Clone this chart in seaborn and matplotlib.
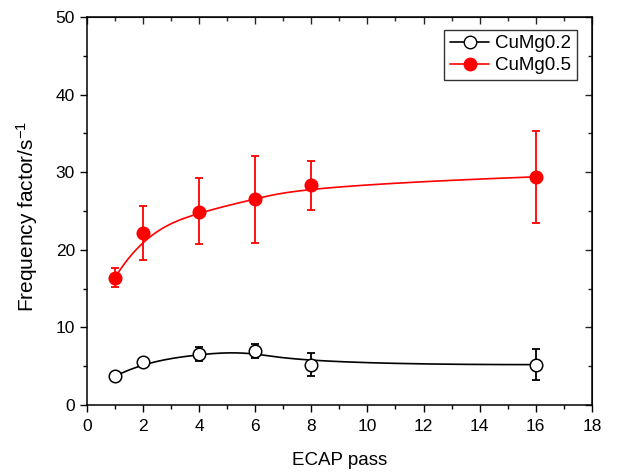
import numpy as np
import pandas as pd
import seaborn as sns
import matplotlib
matplotlib.use("Agg")
import matplotlib.pyplot as plt
from matplotlib.lines import Line2D
from matplotlib.ticker import MultipleLocator

# data
passes = [1, 2, 4, 6, 8, 16]

cumg02 = [3.7, 5.5, 6.6, 7.0, 5.2, 5.2]
cumg02_hi = [4.1, 5.9, 7.5, 7.9, 6.7, 7.2]
cumg02_lo = [3.3, 5.1, 5.7, 6.0, 3.7, 3.2]

cumg05 = [16.4, 22.2, 24.9, 26.5, 28.3, 29.4]
cumg05_hi = [17.7, 25.6, 29.3, 32.1, 31.4, 35.3]
cumg05_lo = [15.2, 18.7, 20.7, 20.9, 25.1, 23.4]

series_names = ["CuMg0.2", "CuMg0.5"]


def bspline(px, py, n=300, k=3):
    # clamped cubic B-spline with the data points as control points (Origin style)
    px = np.asarray(px, float)
    py = np.asarray(py, float)
    m = len(px)
    knots = np.concatenate([np.zeros(k), np.linspace(0, 1, m - k + 1), np.ones(k)])
    t = np.linspace(0, 1 - 1e-9, n)

    def basis(i, d):
        if d == 0:
            return ((knots[i] <= t) & (t < knots[i + 1])).astype(float)
        out = np.zeros_like(t)
        den1 = knots[i + d] - knots[i]
        den2 = knots[i + d + 1] - knots[i + 1]
        if den1 > 0:
            out += (t - knots[i]) / den1 * basis(i, d - 1)
        if den2 > 0:
            out += (knots[i + d + 1] - t) / den2 * basis(i + 1, d - 1)
        return out

    B = np.array([basis(i, k) for i in range(m)])
    return B.T @ px, B.T @ py


pts = pd.DataFrame({
    "pass": passes * 2,
    "value": cumg02 + cumg05,
    "hi": cumg02_hi + cumg05_hi,
    "lo": cumg02_lo + cumg05_lo,
    "alloy": [series_names[0]] * len(passes) + [series_names[1]] * len(passes),
})

curves = []
for name, vals in zip(series_names, [cumg02, cumg05]):
    cx, cy = bspline(passes, vals)
    curves.append(pd.DataFrame({"pass": cx, "value": cy, "alloy": name}))
curves = pd.concat(curves, ignore_index=True)

colors = {"CuMg0.2": "black", "CuMg0.5": "red"}
faces = {"CuMg0.2": "white", "CuMg0.5": "red"}

sns.set_style("ticks")
plt.rcParams["font.family"] = ["Liberation Sans", "DejaVu Sans"]
plt.rcParams["mathtext.fontset"] = "custom"
plt.rcParams["mathtext.rm"] = "Liberation Sans"
plt.rcParams["mathtext.it"] = "Liberation Sans"
plt.rcParams["text.color"] = "black"
plt.rcParams["axes.labelcolor"] = "black"

fig = plt.figure(figsize=(6.25, 4.73), dpi=100)
ax = fig.add_axes([0.139, 0.1438, 0.808, 0.8204])

sns.lineplot(data=curves, x="pass", y="value", hue="alloy", palette=colors,
             units="alloy", estimator=None, sort=False, lw=1.2, legend=False, ax=ax)

for name in series_names:
    d = pts[pts["alloy"] == name]
    ax.errorbar(d["pass"], d["value"],
                yerr=[d["value"] - d["lo"], d["hi"] - d["value"]],
                fmt="none", ecolor=colors[name], elinewidth=1.3,
                capsize=3, capthick=1.3, zorder=3)
    ax.plot(d["pass"], d["value"], ls="none", marker="o", ms=9,
            mfc=faces[name], mec=colors[name], mew=1.1, zorder=4)

ax.set_xlim(0, 18)
ax.set_ylim(0, 50)
ax.xaxis.set_major_locator(MultipleLocator(2))
ax.xaxis.set_minor_locator(MultipleLocator(1))
ax.yaxis.set_major_locator(MultipleLocator(10))
ax.yaxis.set_minor_locator(MultipleLocator(5))
ax.tick_params(which="both", direction="out", width=1.0, labelsize=12.5, colors="black")
ax.tick_params(which="major", length=5)
ax.tick_params(which="minor", length=3)
ax.tick_params(axis="x", pad=5)

for s in ax.spines.values():
    s.set_linewidth(1.1)
    s.set_color("black")
    s.set_visible(True)

# inward ticks on the top and right spines
top = ax.secondary_xaxis("top")
top.xaxis.set_major_locator(MultipleLocator(2))
top.xaxis.set_minor_locator(MultipleLocator(1))
top.tick_params(which="both", direction="in", width=1.0, labeltop=False)
top.tick_params(which="major", length=5)
top.tick_params(which="minor", length=3)
right = ax.secondary_yaxis("right")
right.yaxis.set_major_locator(MultipleLocator(10))
right.yaxis.set_minor_locator(MultipleLocator(5))
right.tick_params(which="both", direction="in", width=1.0, labelright=False)
right.tick_params(which="major", length=5)
right.tick_params(which="minor", length=3)

ax.set_xlabel("ECAP pass", fontsize=13.5, labelpad=13)
ax.set_ylabel("Frequency factor/s$^{-1}$", fontsize=15)
ax.yaxis.set_label_coords(-0.093, 0.485)

handles = [Line2D([], [], color=colors[n], lw=1.2, marker="o", ms=9,
                  mfc=faces[n], mec=colors[n]) for n in series_names]
leg = ax.legend(handles, series_names, loc="upper right", bbox_to_anchor=(0.97, 0.967),
                fontsize=13.5, frameon=True, fancybox=False, handlelength=2.1,
                handletextpad=0.3, borderpad=0.3, labelspacing=0.25, borderaxespad=0)
leg.get_frame().set_edgecolor("black")
leg.get_frame().set_linewidth(1.0)

fig.savefig("out.png", dpi=100)
